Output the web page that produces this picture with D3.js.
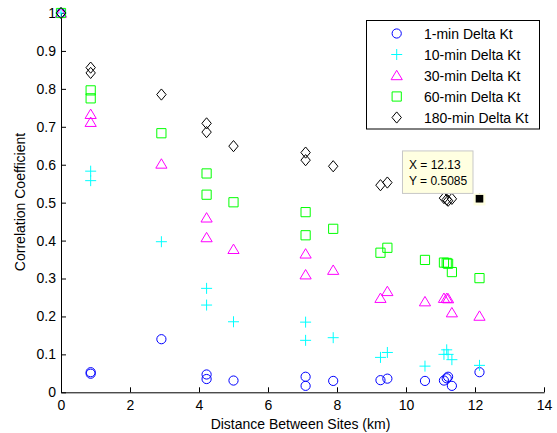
<!DOCTYPE html>
<html><head><meta charset="utf-8">
<script src="https://cdn.jsdelivr.net/npm/d3@7"></script>
<style>
html,body{margin:0;padding:0;background:#fff;}
svg{display:block;font-family:"Liberation Sans",Arial,sans-serif;}
</style></head>
<body>
<svg id="chart" width="557" height="433"></svg>
<script>
// Distance between sites (km) for each pair
const distances = [0, 0.86, 0.86, 2.91, 4.22, 4.22, 5.0, 7.09, 7.09, 7.89, 9.26, 9.46, 10.55, 11.10, 11.18, 11.22, 11.33, 12.13];
const kt1   = [1, 0.053, 0.049, 0.140, 0.047, 0.035, 0.031, 0.041, 0.017, 0.030, 0.032, 0.036, 0.030, 0.031, 0.037, 0.041, 0.017, 0.053];
const kt10  = [1, 0.583, 0.558, 0.397, 0.274, 0.230, 0.186, 0.185, 0.137, 0.144, 0.092, 0.105, 0.069, 0.100, 0.112, 0.100, 0.086, 0.071];
const kt30  = [1, 0.733, 0.712, 0.602, 0.460, 0.408, 0.377, 0.365, 0.310, 0.322, 0.248, 0.266, 0.239, 0.248, 0.248, 0.247, 0.210, 0.201];
const kt60  = [1, 0.796, 0.775, 0.683, 0.577, 0.521, 0.501, 0.475, 0.414, 0.431, 0.368, 0.381, 0.349, 0.342, 0.341, 0.339, 0.317, 0.301];
const kt180 = [1, 0.856, 0.842, 0.785, 0.709, 0.686, 0.649, 0.632, 0.612, 0.596, 0.546, 0.553, 0.570, 0.512, 0.508, 0.505, 0.510, 0.5085];
const seriesNames = ["1-min Delta Kt", "10-min Delta Kt", "30-min Delta Kt", "60-min Delta Kt", "180-min Delta Kt"];
const seriesValues = [kt1, kt10, kt30, kt60, kt180];
const seriesColors = ["#0000ff", "#00ffff", "#ff00ff", "#00ff00", "#000000"];
const seriesMarkers = ["circle", "plus", "triangle", "square", "diamond"];
const xTicks = [0, 2, 4, 6, 8, 10, 12, 14];
const yTicks = [0, 0.1, 0.2, 0.3, 0.4, 0.5, 0.6, 0.7, 0.8, 0.9, 1];
const tipX = 12.13, tipY = 0.5085;

const svg = d3.select("#chart");
const x = d3.scaleLinear().domain([0, 14]).range([61, 544]);
const y = d3.scaleLinear().domain([0, 1]).range([392.3, 13]);

function markerPath(type) {
  switch (type) {
    case "circle": return "M4.6,0A4.6,4.6 0 1,1 -4.6,0A4.6,4.6 0 1,1 4.6,0Z";
    case "plus": return "M-5.5,0H5.5M0,-5.5V5.5";
    case "triangle": return "M0,-5.2L5.6,4.2L-5.6,4.2Z";
    case "square": return "M-4.6,-4.6H4.6V4.6H-4.6Z";
    case "diamond": return "M0,-5.6L4.7,0L0,5.6L-4.7,0Z";
  }
}

// axes
const gx = svg.append("g").attr("transform", `translate(0,${y(0)})`)
  .call(d3.axisBottom(x).tickValues(xTicks).tickFormat(d3.format("d")).tickSizeInner(-5).tickSizeOuter(0).tickPadding(8));
const gy = svg.append("g").attr("transform", `translate(${x(0)},0)`)
  .call(d3.axisLeft(y).tickValues(yTicks).tickFormat(d => d === 0 || d === 1 ? String(d) : d3.format(".1f")(d)).tickSizeInner(-5).tickSizeOuter(0).tickPadding(5));
[gx, gy].forEach(g => {
  g.selectAll("text").attr("font-size", 14).attr("fill", "#000").attr("font-family", "Liberation Sans, Arial, sans-serif");
  g.selectAll("line").attr("stroke", "#000");
  g.select(".domain").attr("stroke", "#000");
});

// axis titles
svg.append("text").attr("x", 300.5).attr("y", 429).attr("text-anchor", "middle")
  .attr("font-size", 14).attr("fill", "#000").text("Distance Between Sites (km)");
svg.append("text").attr("transform", "translate(25,202) rotate(-90)").attr("text-anchor", "middle")
  .attr("font-size", 14).attr("fill", "#000").text("Correlation Coefficient");

// points
seriesValues.forEach((vals, i) => {
  svg.append("g").selectAll("path").data(vals).join("path")
    .attr("transform", (v, j) => `translate(${x(distances[j])},${y(v)})`)
    .attr("d", markerPath(seriesMarkers[i]))
    .attr("fill", "none").attr("stroke", seriesColors[i]).attr("stroke-width", 1);
});

// data tip
const tx = x(tipX), ty = y(tipY);
svg.append("rect").attr("x", tx - 6).attr("y", ty - 6).attr("width", 12).attr("height", 12).attr("fill", "#ffffe1");
svg.append("rect").attr("x", tx - 3.8).attr("y", ty - 4.5).attr("width", 7.6).attr("height", 7.6).attr("fill", "#000");
const bx = tx - 77, by = ty - 48.5;
svg.append("rect").attr("x", bx).attr("y", by).attr("width", 70.5).attr("height", 42.5)
  .attr("fill", "#ffffe1").attr("stroke", "#c8c8c8").attr("stroke-width", 1);
svg.append("text").attr("x", bx + 6.5).attr("y", by + 18).attr("font-size", 12).attr("fill", "#000").text(`X = ${tipX}`);
svg.append("text").attr("x", bx + 6.5).attr("y", by + 34.5).attr("font-size", 12).attr("fill", "#000").text(`Y = ${tipY}`);

// legend
const lg = svg.append("g");
lg.append("rect").attr("x", 366.5).attr("y", 20.5).attr("width", 173).attr("height", 108.5)
  .attr("fill", "#fff").attr("stroke", "#000").attr("stroke-width", 1);
seriesNames.forEach((name, i) => {
  const ly = 33.5 + i * 21;
  lg.append("path").attr("transform", `translate(396.7,${ly})`).attr("d", markerPath(seriesMarkers[i]))
    .attr("fill", "none").attr("stroke", seriesColors[i]);
  lg.append("text").attr("x", 424).attr("y", ly + 5).attr("font-size", 14).attr("fill", "#000").text(name);
});
</script>
</body></html>
